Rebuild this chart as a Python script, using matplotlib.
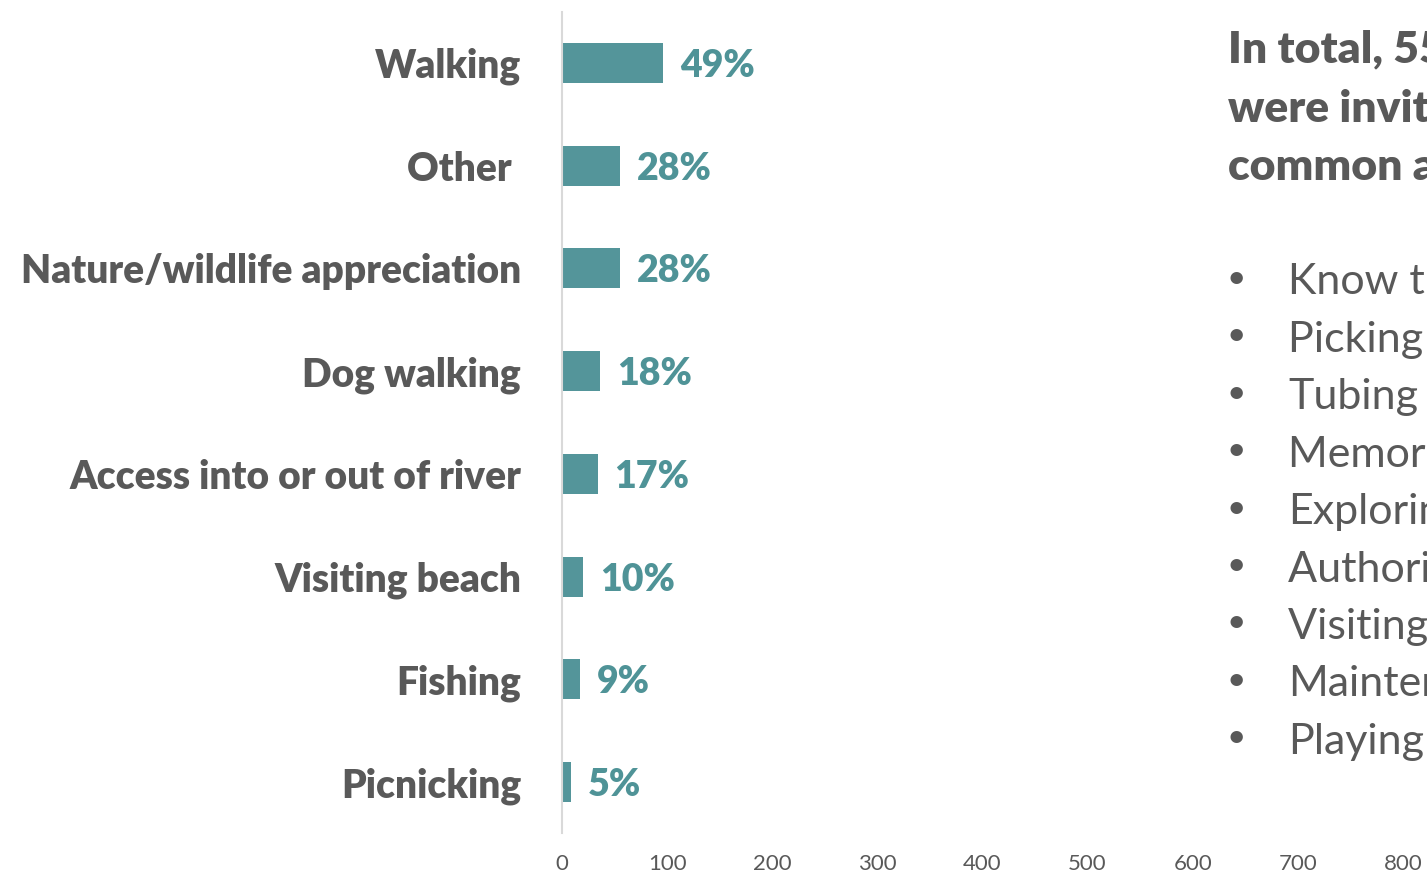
import matplotlib.pyplot as plt
import numpy as np

plt.rcParams['font.family'] = ['Lato', 'DejaVu Sans']

categories = ['Walking', 'Other ', 'Nature/wildlife appreciation', 'Dog walking',
              'Access into or out of river', 'Visiting beach', 'Fishing', 'Picnicking']
counts = [96, 55, 55, 36, 34, 20, 17, 9]
pct_labels = ['49%', '28%', '28%', '18%', '17%', '10%', '9%', '5%']
xticks = [0, 100, 200, 300, 400, 500, 600, 700, 800, 900]

header_lines = ['In total, 55 respondents', 'were invited to list other', 'common activities:']
bullets = ['Know the area', 'Picking litter', 'Tubing', 'Memorial visits', 'Exploring',
           'Authorised work', 'Visiting friends', 'Maintenance', 'Playing']

grey = '#595959'
teal = '#54959a'
W, H = 1427, 875

fig = plt.figure(figsize=(W / 100, H / 100), dpi=100)
ax = fig.add_axes([562 / W, (H - 833.4) / H, 946 / W, 821.8 / H])

y = np.arange(len(categories))
ax.barh(y, counts, height=0.39, color=teal)
for yi, c, lab in zip(y, counts, pct_labels):
    ax.text(c + 16, yi, lab, ha='left', va='center_baseline', fontsize=27,
            fontweight='heavy', color='#4f9397')

ax.set_xlim(0, 900)
ax.set_ylim(len(categories) - 0.5, -0.5)
ax.set_xticks(xticks)
ax.set_yticks(y)
ax.set_yticklabels(categories, fontsize=28, fontweight='heavy', color=grey)
ax.tick_params(axis='y', length=0, pad=29.5)
ax.tick_params(axis='x', length=0, pad=15, labelsize=16, labelcolor=grey)
for s in ['top', 'right', 'bottom']:
    ax.spines[s].set_visible(False)
ax.spines['left'].set_color('#d9d9d9')
ax.spines['left'].set_linewidth(1.5)

for i, line in enumerate(header_lines):
    fig.text(1228 / W, 1 - (47 + i * 58.5) / H, line, ha='left', va='center_baseline',
             fontsize=32, fontweight='heavy', color=grey)

for i, item in enumerate(bullets):
    yy = 1 - (279 + i * 57.4) / H
    fig.text(1236 / W, yy, '•', ha='center', va='center', fontsize=24, color=grey)
    fig.text(1288 / W, yy, item, ha='left', va='center_baseline', fontsize=31, color=grey)

fig.savefig('out.png', dpi=100)
